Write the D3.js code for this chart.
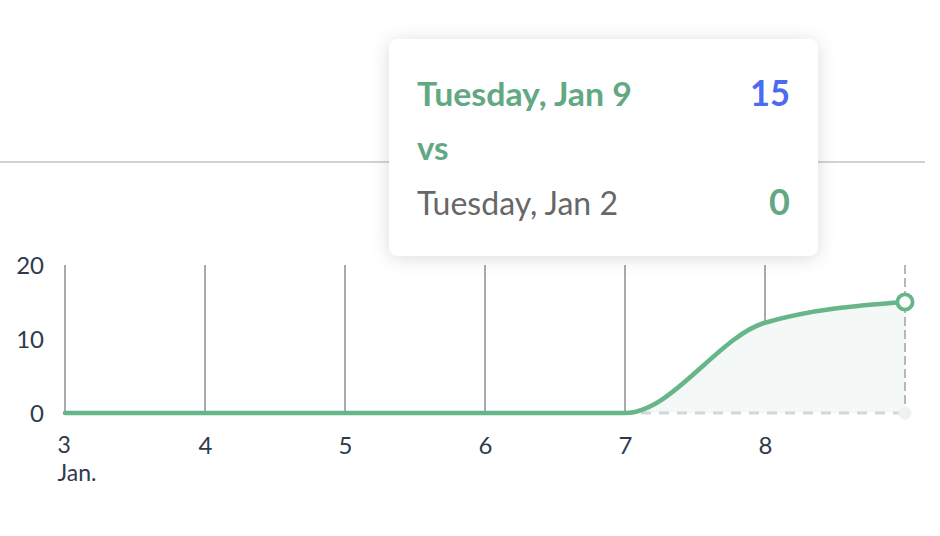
<!DOCTYPE html>
<html><head><meta charset="utf-8">
<script src="https://cdn.jsdelivr.net/npm/d3@7"></script>
<style>
html,body{margin:0;padding:0;background:#fff;}
svg{display:block;font-family:Lato,"Open Sans",sans-serif;}
</style></head>
<body>
<svg id="c" width="940" height="536"></svg>
<script>
const dates = ["2024-01-03","2024-01-04","2024-01-05","2024-01-06","2024-01-07","2024-01-08","2024-01-09"];
const currentValues = [0,0,0,0,0,12.2,15];
const previousValues = [0,0,0,0,0,0,0];
const yTicks = [0,10,20];
const tooltipCurrentLabel = "Tuesday, Jan 9";
const tooltipCurrentValue = "15";
const tooltipVs = "vs";
const tooltipPreviousLabel = "Tuesday, Jan 2";
const tooltipPreviousValue = "0";

const parse = d3.timeParse("%Y-%m-%d");
const cur = dates.map((d,i)=>({x:parse(d), y:currentValues[i]}));
const prev = dates.map((d,i)=>({x:parse(d), y:previousValues[i]}));

const svg = d3.select("#c");
const x = d3.scaleTime().domain([parse(dates[0]), parse(dates[dates.length-1])]).range([65,905]);
const y = d3.scaleLinear().domain([0,20]).range([413,265]);

const green = "#66b68a";
const axisColor = "#2f3b4c";

// top separator line
svg.append("line").attr("x1",0).attr("x2",925).attr("y1",162).attr("y2",162)
  .attr("stroke","#cfd2d6").attr("stroke-width",2);

// vertical grid lines
svg.append("g").selectAll("line").data(cur.slice(0,-1)).join("line")
  .attr("x1",d=>x(d.x)).attr("x2",d=>x(d.x))
  .attr("y1",y(20)).attr("y2",y(0))
  .attr("stroke","#a7abb1").attr("stroke-width",2);

// area
const area = d3.area().x(d=>x(d.x)).y0(y(0)).y1(d=>y(d.y)).curve(d3.curveMonotoneX);
svg.append("path").datum(cur).attr("d",area).attr("fill","#f4f8f6");

// previous series dashed
const line = d3.line().x(d=>x(d.x)).y(d=>y(d.y)).curve(d3.curveMonotoneX);
svg.append("path").datum(prev).attr("d",line).attr("fill","none")
  .attr("stroke","#d3d6da").attr("stroke-width",3).attr("stroke-dasharray","10,8");

// cursor line
const last = cur[cur.length-1];
svg.append("line").attr("x1",x(last.x)).attr("x2",x(last.x)).attr("y1",y(20)).attr("y2",y(0))
  .attr("stroke","#b4b8be").attr("stroke-width",2).attr("stroke-dasharray","9,4");

// current line
svg.append("path").datum(cur).attr("d",line).attr("fill","none")
  .attr("stroke",green).attr("stroke-width",4.6).attr("stroke-linecap","round");

// previous point marker
svg.append("circle").attr("cx",x(prev[prev.length-1].x)).attr("cy",y(prev[prev.length-1].y))
  .attr("r",6.5).attr("fill","#eef0f2");

// current point marker
svg.append("circle").attr("cx",x(last.x)).attr("cy",y(last.y)).attr("r",7.6)
  .attr("fill","#fff").attr("stroke",green).attr("stroke-width",3.8);

// y axis labels
const yAxis = d3.axisLeft(y).tickValues(yTicks).tickSize(0).tickPadding(0).tickFormat(d3.format("d"));
const yg = svg.append("g").attr("transform","translate(44,1)").call(yAxis);
yg.select(".domain").remove();
yg.selectAll("text").attr("font-size",24).attr("fill",axisColor).attr("font-family","Lato,sans-serif");

// x axis labels
const xAxis = d3.axisBottom(x).tickValues(cur.map(d=>d.x).slice(0,-1)).tickSize(0).tickPadding(0)
  .tickFormat(d3.timeFormat("%-d"));
const xg = svg.append("g").attr("transform","translate(0,437)").call(xAxis);
xg.select(".domain").remove();
xg.selectAll("text").attr("font-size",24).attr("fill",axisColor).attr("font-family","Lato,sans-serif");
// first label: two lines, left aligned (day + month)
const firstLabel = xg.select(".tick text");
firstLabel.attr("text-anchor","start").attr("x",-8).attr("font-size",23).text(null);
firstLabel.append("tspan").attr("x",-8).text(d3.timeFormat("%-d")(cur[0].x));
firstLabel.append("tspan").attr("x",-8).attr("dy","1.22em").text(d3.timeFormat("%b.")(cur[0].x));

// tooltip
const defs = svg.append("defs");
const f = defs.append("filter").attr("id","sh").attr("x","-20%").attr("y","-20%").attr("width","140%").attr("height","140%");
f.append("feDropShadow").attr("dx",0).attr("dy",2).attr("stdDeviation",9).attr("flood-color","#000").attr("flood-opacity",0.14);
const tt = svg.append("g");
tt.append("rect").attr("x",389).attr("y",39).attr("width",429).attr("height",217).attr("rx",9)
  .attr("fill","#fff").attr("filter","url(#sh)");
tt.append("text").attr("x",417).attr("y",106).text(tooltipCurrentLabel)
  .attr("font-size",33).attr("font-weight",700).attr("fill","#62a883")
  .attr("textLength",215).attr("lengthAdjust","spacingAndGlyphs");
tt.append("text").attr("x",790).attr("y",106).attr("text-anchor","end").text(tooltipCurrentValue)
  .attr("font-size",37).attr("font-weight",700).attr("fill","#4d6bf0")
  .attr("textLength",40).attr("lengthAdjust","spacingAndGlyphs");
tt.append("text").attr("x",417).attr("y",160).text(tooltipVs)
  .attr("font-size",33).attr("font-weight",700).attr("fill","#62a883");
tt.append("text").attr("x",417).attr("y",215).text(tooltipPreviousLabel)
  .attr("font-size",32).attr("fill","#676767")
  .attr("textLength",201).attr("lengthAdjust","spacingAndGlyphs");
tt.append("text").attr("x",790).attr("y",215).attr("text-anchor","end").text(tooltipPreviousValue)
  .attr("font-size",36).attr("font-weight",700).attr("fill","#62a883");
</script>
</body></html>
